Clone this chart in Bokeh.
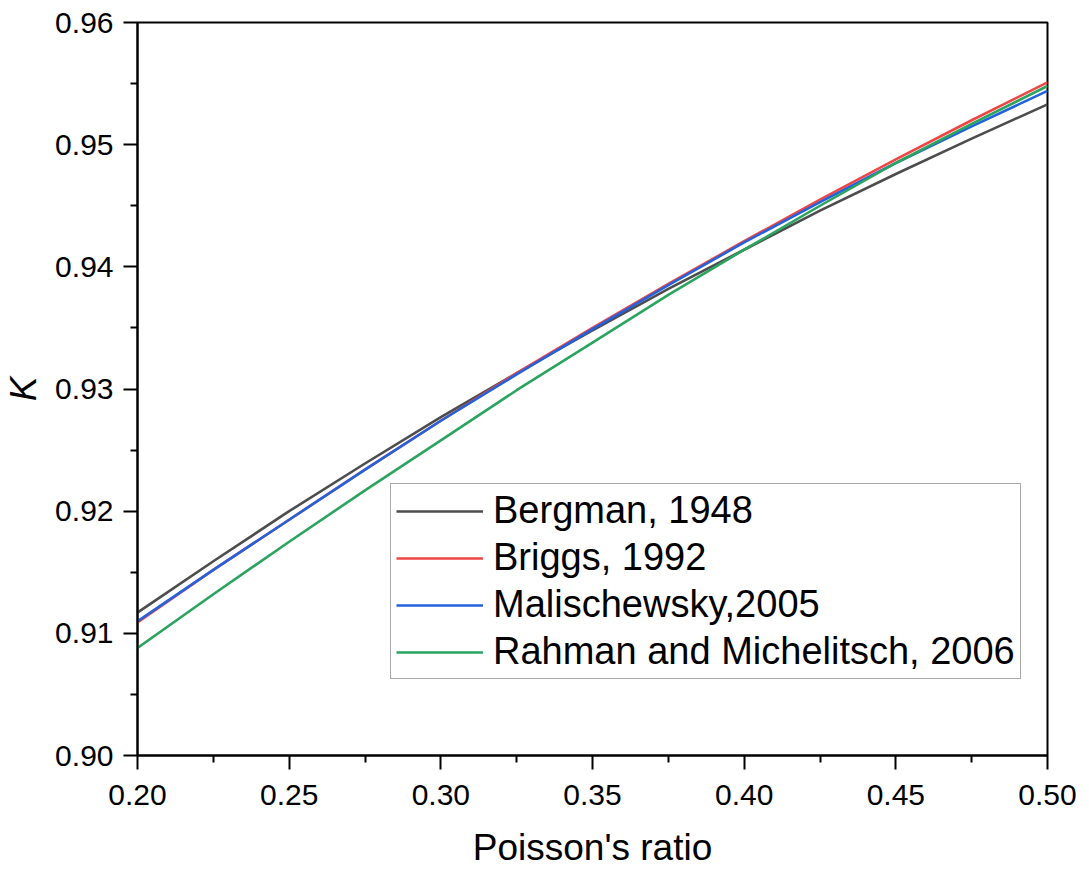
from bokeh.plotting import figure
from bokeh.models import Legend, LegendItem, FixedTicker, Range1d, CustomJSTickFormatter
from bokeh.embed import file_html
from bokeh.resources import INLINE

# Data
nu = [0.200, 0.225, 0.250, 0.275, 0.300, 0.325, 0.350, 0.375, 0.400, 0.425, 0.450, 0.475, 0.500]
bergman = [0.9117, 0.9159, 0.9200, 0.9239, 0.9277, 0.9313, 0.9348, 0.9382, 0.9414, 0.9446, 0.9476, 0.9505, 0.9533]
briggs = [0.9109, 0.9152, 0.9193, 0.9234, 0.9274, 0.9313, 0.9350, 0.9386, 0.9421, 0.9455, 0.9488, 0.9520, 0.9551]
malischewsky = [0.9110, 0.9152, 0.9193, 0.9234, 0.9274, 0.9312, 0.9349, 0.9385, 0.9420, 0.9453, 0.9485, 0.9515, 0.9544]
rahman = [0.9088, 0.9132, 0.9175, 0.9217, 0.9258, 0.9299, 0.9338, 0.9377, 0.9414, 0.9450, 0.9485, 0.9517, 0.9548]

x_ticks = [0.20, 0.25, 0.30, 0.35, 0.40, 0.45, 0.50]
y_ticks = [0.90, 0.91, 0.92, 0.93, 0.94, 0.95, 0.96]
x_minor = [0.225, 0.275, 0.325, 0.375, 0.425, 0.475]
y_minor = [0.905, 0.915, 0.925, 0.935, 0.945, 0.955]

labels = ["Bergman, 1948", "Briggs, 1992", "Malischewsky,2005", "Rahman and Michelitsch, 2006"]
colors = ["#4d4d4d", "#f04545", "#2262dc", "#2aa45e"]
series = [bergman, briggs, malischewsky, rahman]

FONT = "Liberation Sans"

p = figure(width=1089, height=870, output_backend="svg", toolbar_location=None,
           x_range=Range1d(0.20, 0.50), y_range=Range1d(0.90, 0.96),
           min_border_left=135, min_border_right=42, min_border_top=22, min_border_bottom=113)

p.grid.visible = False
p.outline_line_color = "black"
p.outline_line_width = 2
p.background_fill_color = "white"
p.border_fill_color = "white"

renderers = []
for ys, c in zip(series, colors):
    r = p.line(nu, ys, line_color=c, line_width=2.6, line_join="round")
    renderers.append(r)

for ax in (p.xaxis[0], p.yaxis[0]):
    ax.axis_line_width = 2
    ax.axis_line_color = "black"
    ax.major_tick_line_width = 2
    ax.minor_tick_line_width = 2
    ax.major_tick_out = 14
    ax.major_tick_in = 0
    ax.minor_tick_out = 7
    ax.minor_tick_in = 0
    ax.major_label_text_font = FONT
    ax.major_label_text_font_size = "30px"
    ax.major_label_text_color = "black"
    ax.axis_label_text_font = FONT
    ax.axis_label_text_font_size = "37px"
    ax.axis_label_text_color = "black"
    ax.formatter = CustomJSTickFormatter(code="return tick.toFixed(2);")

p.xaxis[0].ticker = FixedTicker(ticks=x_ticks, minor_ticks=x_minor)
p.yaxis[0].ticker = FixedTicker(ticks=y_ticks, minor_ticks=y_minor)
p.xaxis[0].axis_label = "Poisson's ratio"
p.xaxis[0].axis_label_text_font_style = "normal"
p.xaxis[0].major_label_standoff = 15
p.xaxis[0].axis_label_standoff = 19
p.yaxis[0].axis_label = "K"
p.yaxis[0].axis_label_text_font_style = "italic"
p.yaxis[0].major_label_standoff = 10
p.yaxis[0].axis_label_standoff = 8

items = [LegendItem(label=l, renderers=[r]) for l, r in zip(labels, renderers)]
legend = Legend(items=items, location=(253, 76))
legend.label_text_font = FONT
legend.label_text_font_size = "38px"
legend.label_text_color = "black"
legend.glyph_width = 87
legend.glyph_height = 40
legend.label_height = 40
legend.label_standoff = 10
legend.spacing = 4
legend.padding = 5
legend.margin = 0
legend.border_line_color = "#555555"
legend.border_line_width = 1.5
legend.background_fill_color = "white"
legend.background_fill_alpha = 1
p.add_layout(legend, "center")

open("out.html", "w").write(file_html(p, INLINE))
